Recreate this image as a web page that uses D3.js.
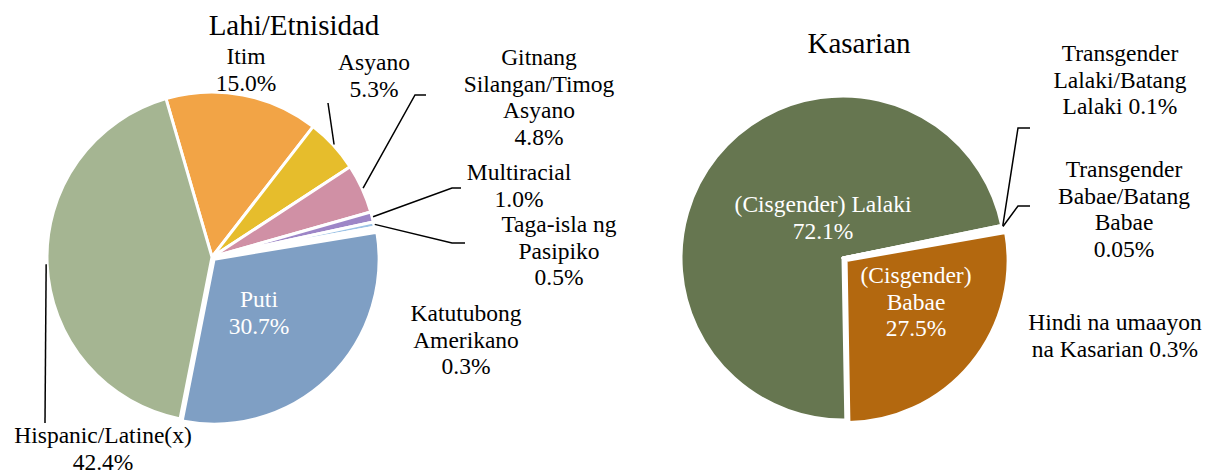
<!DOCTYPE html>
<html><head><meta charset="utf-8">
<script src="https://cdn.jsdelivr.net/npm/d3@7"></script>
</head><body style="margin:0">
<svg id="c" width="1208" height="472"></svg>
<script>
// ---- data ----
const raceTitle = "Lahi/Etnisidad";
const raceCategories = ["Itim","Asyano","Gitnang\nSilangan/Timog\nAsyano","Multiracial","Taga-isla ng\nPasipiko","Katutubong\nAmerikano","Puti","Hispanic/Latine(x)"];
const raceValues = [15.0,5.3,4.8,1.0,0.5,0.3,30.7,42.4];
const raceColors = ["#F2A446","#E6BD2C","#D090A5","#9D86C7","#9DC3E6","#DCE6F2","#7F9FC4","#A5B592"];

const genderTitle = "Kasarian";
const genderCategories = ["(Cisgender) Lalaki","Transgender\nLalaki/Batang\nLalaki","Transgender\nBabae/Batang\nBabae","Hindi na umaayon\nna Kasarian","(Cisgender)\nBabae"];
const genderValues = [72.1,0.1,0.05,0.3,27.5];
const genderColors = ["#667650","#8FA36E","#C9A56B","#B9B9B9","#B3680F"];

const pct = v => (v < 0.1 ? v.toFixed(2) : v.toFixed(1)) + "%";

// ---- layout ----
const FONT = "Liberation Serif";
const FS = 23.5, LH = 26.5;
const svg = d3.select("#c");

const racePie = {cx:212, cy:257, r:165, start:-16.2, explode:[0,0,0,0,0,0,3,0],
  labels:[
    {x:246,y:64,sep:"\n",fill:"#000"},
    {x:374,y:70,sep:"\n",fill:"#000",leader:[[328,103]]},
    {x:539,y:65,sep:"\n",fill:"#000",leader:[[415,95],[426,95]]},
    {x:519,y:180,sep:"\n",fill:"#000",leader:[[452,188],[461,188]]},
    {x:559,y:232,sep:"\n",fill:"#000",leader:[[452,243],[465,243]]},
    {x:466,y:321,sep:"\n",fill:"#000"},
    {x:259,y:307,sep:"\n",fill:"#fff"},
    {x:103,y:443,sep:"\n",fill:"#000",leader:[[45,423]]}
  ], title:{x:294,y:35}};

const genderPie = {cx:843, cy:258, r:162, start:179, explode:[0,0,0,0,4],
  labels:[
    {x:823,y:212,sep:"\n",fill:"#fff"},
    {x:1120,y:61,sep:" ",fill:"#000",leader:[[1018,128],[1030,128]]},
    {x:1124,y:177,sep:"\n",fill:"#000",leader:[[1018,206],[1030,206]]},
    {x:1115,y:330,sep:" ",fill:"#000"},
    {x:916,y:283,sep:"\n",fill:"#fff"}
  ], title:{x:859,y:53}};

function addText(x, y, str, size, fill){
  return svg.append("text").attr("x",x).attr("y",y)
    .attr("font-family",FONT).style("font-family",FONT)
    .attr("font-size",size)
    .attr("text-anchor","middle").attr("fill",fill).text(str);
}

function drawPie(cfg, title, cats, vals, colors){
  const pie = d3.pie().sort(null).value(d=>d)
    .startAngle(cfg.start*Math.PI/180).endAngle(cfg.start*Math.PI/180 + 2*Math.PI);
  const arcs = pie(vals);
  const arc = d3.arc().innerRadius(0).outerRadius(cfg.r);
  const edge = d3.arc().innerRadius(cfg.r+1).outerRadius(cfg.r+1);
  const g = svg.append("g").attr("transform",`translate(${cfg.cx},${cfg.cy})`);
  g.selectAll("path.slice").data(arcs).enter().append("path")
    .attr("class","slice")
    .attr("d",arc)
    .attr("fill",(d,i)=>colors[i])
    .attr("stroke","#fff").attr("stroke-width",3).attr("stroke-linejoin","round")
    .attr("transform",(d,i)=>{
      const a=(d.startAngle+d.endAngle)/2, e=cfg.explode[i]||0;
      return `translate(${Math.sin(a)*e},${-Math.cos(a)*e})`;
    });
  arcs.forEach((d,i)=>{
    const L = cfg.labels[i];
    if(!L.leader) return;
    const c = edge.centroid(d);
    const pts = [[cfg.cx+c[0], cfg.cy+c[1]], ...L.leader];
    svg.append("path").attr("d", d3.line()(pts))
      .attr("fill","none").attr("stroke","#000").attr("stroke-width",1.5);
  });
  arcs.forEach((d,i)=>{
    const L = cfg.labels[i];
    const lines = (cats[i] + L.sep + pct(vals[i])).split("\n");
    lines.forEach((s,k)=>addText(L.x, L.y+k*LH, s, FS, L.fill));
  });
  addText(cfg.title.x, cfg.title.y, title, 29, "#000");
}

drawPie(racePie, raceTitle, raceCategories, raceValues, raceColors);
drawPie(genderPie, genderTitle, genderCategories, genderValues, genderColors);
</script>
</body></html>
